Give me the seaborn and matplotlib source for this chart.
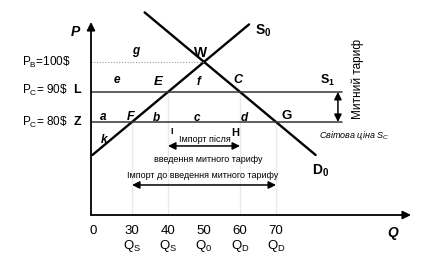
import matplotlib
matplotlib.use("Agg")
import matplotlib.pyplot as plt
import seaborn as sns
import pandas as pd

sns.set_theme(style="white")
plt.rcParams['font.family'] = ['Liberation Sans', 'DejaVu Sans']
plt.rcParams['mathtext.fontset'] = 'custom'
plt.rcParams['mathtext.rm'] = 'Liberation Sans'
plt.rcParams['mathtext.it'] = 'Liberation Sans:italic'
plt.rcParams['mathtext.bf'] = 'Liberation Sans:bold'

# ---- data ----
supply_q = [19.0, 62.5]
supply_p = [69.0, 112.5]
demand_q = [33.5, 81.0]
demand_p = [116.5, 69.0]
price_before = 100          # P_B
price_tariff = 90           # P_C with tariff
price_world = 80            # world price
q_ticks = [30, 40, 50, 60, 70]
q_tick_labels = ["30", "40", "50", "60", "70"]
q_sub_labels = ["$\\mathregular{Q_S}$", "$\\mathregular{Q_S}$", "$\\mathregular{Q_0}$",
                "$\\mathregular{Q_D}$", "$\\mathregular{Q_D}$"]
q_min, q_max = 18.6, 107.5
p_min, p_max = 49.0, 112.3
line_end_q = 88.3

W, H = 428, 256
fig = plt.figure(figsize=(W / 100, H / 100), dpi=100)
ax = fig.add_axes([91 / W, 41 / H, 320 / W, 190 / H])
ax.set_xlim(q_min, q_max)
ax.set_ylim(p_min, p_max)
ax.axis('off')

def T(x, y, s, **kw):
    kw.setdefault('ha', 'center')
    kw.setdefault('va', 'center')
    kw.setdefault('color', 'black')
    fig.text(x / W, 1 - y / H, s, **kw)

# axes arrows
ax.annotate('', xy=(q_min, p_max + 1.0), xytext=(q_min, p_min),
            arrowprops=dict(arrowstyle='-|>', color='black', lw=1.3, mutation_scale=12,
                            shrinkA=0, shrinkB=0), annotation_clip=False)
ax.annotate('', xy=(q_max, p_min), xytext=(q_min, p_min),
            arrowprops=dict(arrowstyle='-|>', color='black', lw=1.3, mutation_scale=12,
                            shrinkA=0, shrinkB=0), annotation_clip=False)

# supply & demand
df_s = pd.DataFrame({'Q': supply_q, 'P': supply_p})
df_d = pd.DataFrame({'Q': demand_q, 'P': demand_p})
sns.lineplot(data=df_s, x='Q', y='P', ax=ax, color='black', lw=1.7, clip_on=False)
sns.lineplot(data=df_d, x='Q', y='P', ax=ax, color='black', lw=1.7, clip_on=False)

# price lines
for p in [price_tariff, price_world]:
    sns.lineplot(x=[q_min, line_end_q], y=[p, p], ax=ax, color='#333333', lw=1.1)
sns.lineplot(x=[q_min, 50], y=[price_before, price_before], ax=ax, color='#999999',
             lw=0.8, linestyle=(0, (1, 1.5)))

# vertical dotted lines
vtops = [price_world, price_tariff, None, price_tariff, price_world]
for q, top in zip(q_ticks, vtops):
    if top is None:
        continue
    sns.lineplot(x=[q, q], y=[p_min, top], ax=ax, color='#999999', lw=0.8,
                 linestyle=(0, (1, 1.5)))

# import arrows
ax.annotate('', xy=(q_ticks[1], 72), xytext=(q_ticks[3], 72),
            arrowprops=dict(arrowstyle='<|-|>', color='black', lw=1.1, mutation_scale=11,
                            shrinkA=0, shrinkB=0))
ax.annotate('', xy=(q_ticks[0], 59), xytext=(q_ticks[4], 59),
            arrowprops=dict(arrowstyle='<|-|>', color='black', lw=1.1, mutation_scale=11,
                            shrinkA=0, shrinkB=0))
# tariff arrow
ax.annotate('', xy=(87.2, price_tariff), xytext=(87.2, price_world),
            arrowprops=dict(arrowstyle='<|-|>', color='black', lw=1.1, mutation_scale=11,
                            shrinkA=0, shrinkB=0))

# tick labels
T(93, 231, "0", fontsize=9.5)
for q, lab, sub in zip(q_ticks, q_tick_labels, q_sub_labels):
    xp = 91 + (q - q_min) * 3.6
    T(xp, 231, lab, fontsize=9.5)
    T(xp, 246, sub, fontsize=9.5)

# axis titles
T(75, 32, "P", fontsize=10, fontweight='bold', style='italic')
T(393, 233, "Q", fontsize=10, fontweight='bold', style='italic')

# price labels
T(71, 62, "P$_\\mathregular{B}$=100\\$", fontsize=8.5, ha='right')
T(68, 90, "P$_\\mathregular{C}$= 90\\$", fontsize=8.5, ha='right')
T(77, 90, "L", fontsize=9, fontweight='bold')
T(68, 122, "P$_\\mathregular{C}$= 80\\$", fontsize=8.5, ha='right')
T(77, 122, "Z", fontsize=9, fontweight='bold')

bi = dict(fontweight='bold', style='italic')
T(136, 51, "g", fontsize=8.5, **bi)
T(201, 53, "W", fontsize=10, fontweight='bold')
T(117, 80, "e", fontsize=8.5, **bi)
T(158, 82, "E", fontsize=9.5, **bi)
T(199, 82, "f", fontsize=8.5, **bi)
T(238, 80, "C", fontsize=9, **bi)
T(328, 80, "$\\mathbf{S_1}$", fontsize=9, style='italic')
T(263, 31, "$\\mathbf{S_0}$", fontsize=10)
T(103, 117, "a", fontsize=8.5, **bi)
T(131, 117, "F", fontsize=9, **bi)
T(156, 118, "b", fontsize=8.5, **bi)
T(197, 118, "c", fontsize=8.5, **bi)
T(244, 118, "d", fontsize=8.5, **bi)
T(287, 116, "G", fontsize=9.5, fontweight='bold')
T(104, 140, "k", fontsize=8.5, **bi)
T(172, 131, "I", fontsize=6.5, fontweight='bold')
T(235, 133, "H", fontsize=8, fontweight='bold')
T(321, 171, "$\\mathbf{D_0}$", fontsize=10)

T(205, 140, "Імпорт після", fontsize=6.5)
T(208, 160, "введення митного тарифу", fontsize=6.5)
T(203, 176, "Імпорт до введення митного тарифу", fontsize=6.5)
T(354, 135, "Світова ціна $\\mathit{S_C}$", fontsize=6.5, style='italic')
T(358, 79, "Митний тариф", fontsize=8.5, rotation=90)

fig.savefig("out.png", dpi=100, facecolor='white')
